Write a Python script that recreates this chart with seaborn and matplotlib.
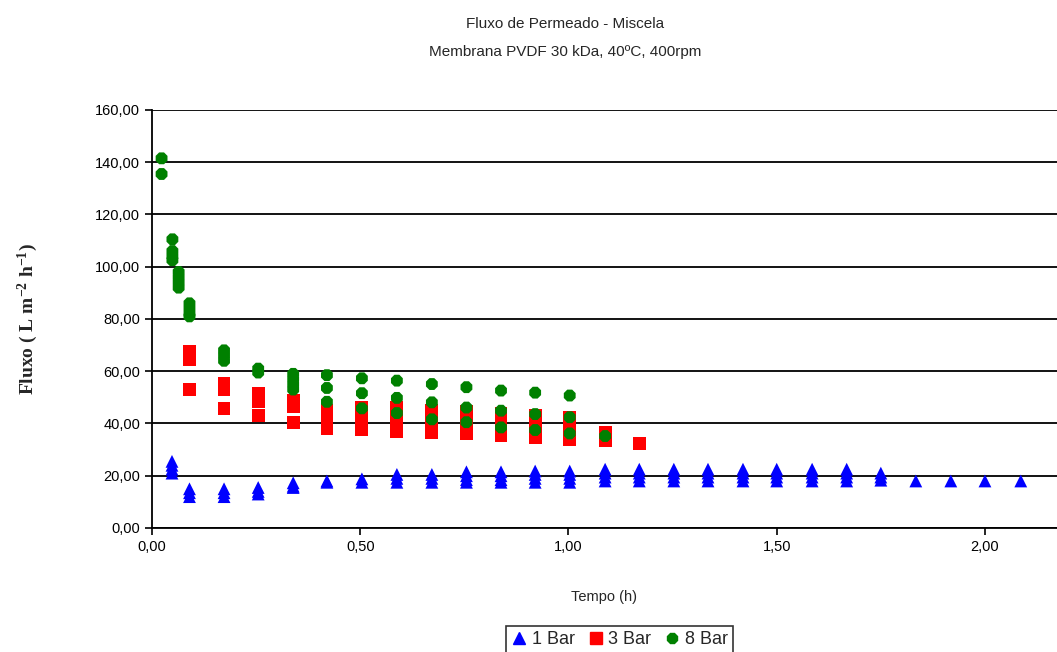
import numpy as np
import pandas as pd
import matplotlib
matplotlib.use("Agg")
import matplotlib.pyplot as plt
import seaborn as sns
from matplotlib.ticker import FuncFormatter, MultipleLocator
from matplotlib.lines import Line2D

# ---------------- data ----------------
t_1bar = [0.048, 0.09, 0.173, 0.255, 0.339, 0.42, 0.504, 0.588, 0.672, 0.755,
          0.838, 0.92, 1.003, 1.088, 1.17, 1.253, 1.335, 1.419, 1.50, 1.585,
          1.668, 1.75, 1.834, 1.918, 2.0, 2.086]
y_1bar = [[25.5, 24, 22.5, 21], [15, 13.5, 12], [15, 13.5, 12], [15.5, 14, 13],
          [17.3, 16, 15.5], [18, 17.5], [18.8, 17.5], [20.5, 19, 17.5],
          [20.5, 19, 17.5], [21.5, 20, 18.5, 17.5], [21.5, 20, 18.5, 17.5],
          [21.8, 20.5, 19, 17.5], [21.8, 20.5, 19, 17.5],
          [22.5, 21, 19.5, 18], [22.5, 21, 19.5, 18], [22.5, 21, 19.5, 18],
          [22.5, 21, 19.5, 18], [22.5, 21, 19.5, 18], [22.5, 21, 19.5, 18],
          [22.5, 21, 19.5, 18], [22.5, 21, 19.5, 18], [21, 19.5, 18.3],
          [18], [18], [18], [18]]

t_3bar = [0.09, 0.173, 0.255, 0.339, 0.42, 0.504, 0.588, 0.672, 0.755, 0.838,
          0.92, 1.003, 1.088, 1.17]
y_3bar = [[67.5, 65.5, 64.5, 53], [55.5, 53, 45.7], [51.5, 48.5, 43],
          [49, 46.5, 40.5], [45, 42.5, 40, 38], [46, 43, 40, 37.5],
          [46, 43, 40, 37], [45, 42, 39, 36.5], [44.5, 41.5, 38.5, 36],
          [44, 41, 38, 35.5], [43, 40, 37, 34.5], [42.5, 39.5, 36.5, 34],
          [36.5, 33.5], [32.3]]

t_8bar = [0.023, 0.049, 0.064, 0.09, 0.173, 0.255, 0.339, 0.42, 0.504, 0.588,
          0.672, 0.755, 0.838, 0.92, 1.003, 1.088]
y_8bar = [[141.5, 135.5], [110.5, 106, 104, 102.5], [98, 96, 94, 92],
          [86, 84, 82, 81], [68, 66, 64], [61, 59.5], [59, 57, 55, 53],
          [58.5, 53.6, 48.3], [57.3, 51.6, 45.8], [56.4, 49.8, 44],
          [55.1, 48.1, 41.6], [53.9, 46.1, 40.5], [52.6, 44.9, 38.5],
          [51.8, 43.6, 37.5], [50.7, 42.4, 36.2], [35.2]]

series = ["1 Bar", "3 Bar", "8 Bar"]
colors = {"1 Bar": "#0000FF", "3 Bar": "#FF0000", "8 Bar": "#008000"}
markers = {"1 Bar": "^", "3 Bar": "s", "8 Bar": "8"}

rows = []
for name, ts, ys in zip(series, [t_1bar, t_3bar, t_8bar], [y_1bar, y_3bar, y_8bar]):
    for t, vals in zip(ts, ys):
        for v in vals:
            rows.append((name, t, v))
df = pd.DataFrame(rows, columns=["Serie", "Tempo", "Fluxo"])

# ---------------- figure ----------------
sns.set_style("white")
plt.rcParams['font.family'] = ['Liberation Sans', 'DejaVu Sans']
plt.rcParams['mathtext.fontset'] = 'custom'
plt.rcParams['mathtext.rm'] = 'Liberation Serif:bold'
plt.rcParams['mathtext.bf'] = 'Liberation Serif:bold'
plt.rcParams['mathtext.default'] = 'rm'

fig = plt.figure(figsize=(10.57, 6.52), dpi=100)
ax = fig.add_axes([0.1438, 0.1902, 0.8562, 0.6411])

sns.scatterplot(data=df, x="Tempo", y="Fluxo", hue="Serie", style="Serie",
                palette=colors, markers=markers, hue_order=series,
                style_order=series, s=85, linewidth=0, ax=ax, legend=False,
                zorder=3)

ax.set_xlim(0, 2.173)
ax.set_ylim(0, 160)
ax.xaxis.set_major_locator(MultipleLocator(0.5))
ax.yaxis.set_major_locator(MultipleLocator(20))
fmt = FuncFormatter(lambda v, p: f"{v:.2f}".replace(".", ","))
ax.xaxis.set_major_formatter(fmt)
ax.yaxis.set_major_formatter(fmt)

ax.grid(axis="y", color="black", linewidth=1.3, zorder=1)
ax.grid(axis="x", visible=False)
ax.set_axisbelow(True)
for s in ["top", "right"]:
    ax.spines[s].set_visible(False)
for s in ["left", "bottom"]:
    ax.spines[s].set_color("black")
    ax.spines[s].set_linewidth(1.3)
ax.tick_params(axis="both", which="major", direction="out", length=5,
               width=1.2, color="black", labelsize=10.5, labelcolor="black",
               bottom=True, left=True)

ax.set_xlabel("Tempo (h)", fontsize=10.5, labelpad=26)
ax.set_ylabel("Fluxo ( L m$^{-2}$ h$^{-1}$)",
              fontsize=14, fontweight="bold", family="Liberation Serif",
              labelpad=40)

fig.text(0.535, 0.963, "Fluxo de Permeado - Miscela", ha="center",
         va="center", fontsize=11)
fig.text(0.535, 0.921, "Membrana PVDF 30 kDa, 40ºC, 400rpm", ha="center",
         va="center", fontsize=11)

handles = [Line2D([], [], linestyle="none", marker=markers[n], color=colors[n],
                  markersize=8) for n in series]
leg = fig.legend(handles, series, loc="upper center",
                 bbox_to_anchor=(0.586, 0.040), ncol=3, frameon=True,
                 fontsize=13, handlelength=0.9, handletextpad=0.25,
                 columnspacing=0.7, borderpad=0.3, borderaxespad=0,
                 fancybox=False)
leg.get_frame().set_edgecolor("black")
leg.get_frame().set_linewidth(1.2)

fig.savefig("out.png", dpi=100)
